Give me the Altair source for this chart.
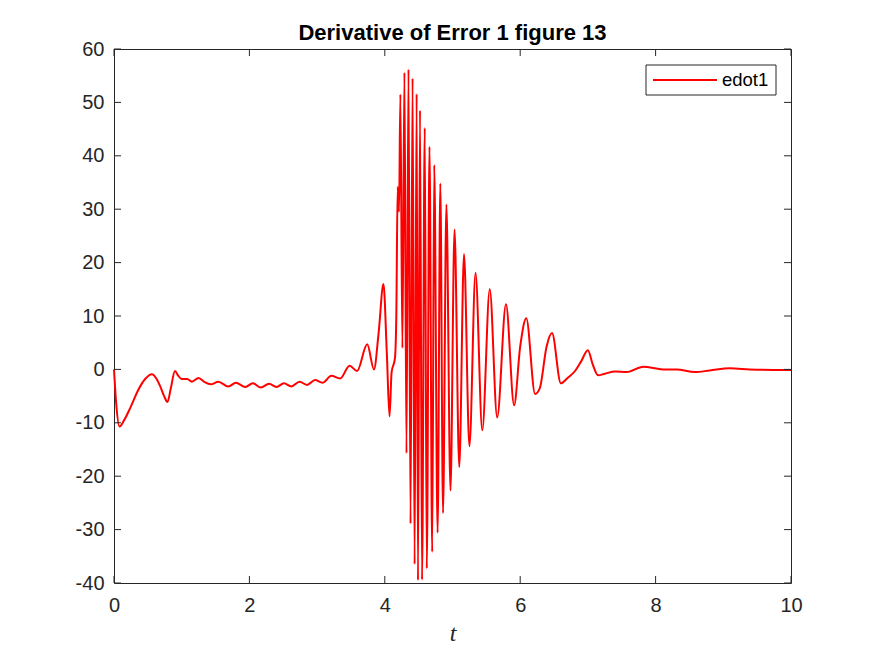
import altair as alt
import pandas as pd

# values (t, edot1)
t = [0.0, 0.03, 0.08, 0.15, 0.24, 0.36, 0.46, 0.56, 0.63, 0.68, 0.74, 0.79, 0.84, 0.90,
     0.95, 1.0, 1.08, 1.15, 1.25, 1.34, 1.43, 1.54, 1.69, 1.80, 1.94, 2.05, 2.17, 2.29,
     2.40, 2.51, 2.62, 2.74, 2.85, 2.97, 3.08, 3.21, 3.34, 3.48, 3.59, 3.74, 3.84, 3.91,
     3.98, 4.03, 4.07, 4.10, 4.15, 4.17, 4.19, 4.21, 4.23, 4.26, 4.29, 4.32, 4.35, 4.38,
     4.41, 4.44, 4.47, 4.49, 4.52, 4.55, 4.59, 4.62, 4.66, 4.70, 4.73, 4.78, 4.82, 4.86,
     4.91, 4.97, 5.03, 5.10, 5.17, 5.25, 5.34, 5.44, 5.55, 5.66, 5.79, 5.91, 6.0, 6.09,
     6.22, 6.29, 6.39, 6.47, 6.60, 6.70, 6.81, 6.90, 7.0, 7.07, 7.15, 7.25, 7.40, 7.57,
     7.82, 8.11, 8.31, 8.58, 8.80, 9.10, 9.39, 9.74, 10.0]
edot1 = [0.0, -6.0, -10.7, -9.5, -7.2, -3.8, -1.8, -0.9, -1.8, -3.1, -5.0, -6.1, -3.5, -0.3,
         -1.2, -1.8, -1.8, -2.3, -1.6, -2.4, -2.8, -2.3, -3.2, -2.5, -3.3, -2.6, -3.4, -2.7,
         -3.3, -2.6, -3.2, -2.3, -2.9, -2.0, -2.5, -1.2, -1.7, 0.7, -0.3, 4.7, 0.0, 7.0,
         16.0, 3.0, -8.8, -0.6, 2.1, 10.0, 34.2, 29.5, 51.5, 4.0, 55.6, -15.7, 56.2, -28.9,
         54.5, -36.5, 51.6, -39.5, 48.5, -39.4, 45.2, -37.3, 41.7, -34.2, 38.3, -30.6, 34.8, -26.9,
         30.9, -22.7, 26.2, -18.3, 21.6, -14.4, 18.1, -11.4, 15.0, -9.0, 12.2, -6.7, 4.3, 9.6,
         -4.6, -3.5, 4.3, 6.8, -2.6, -1.6, -0.3, 1.5, 3.6, 1.0, -1.1, -0.8, -0.4, -0.5,
         0.5, 0.0, 0.0, -0.5, -0.2, 0.2, 0.0, -0.1, -0.1]

x_ticks = [0, 2, 4, 6, 8, 10]
y_ticks = [-40, -30, -20, -10, 0, 10, 20, 30, 40, 50, 60]
series = ['edot1']

W, H = 677, 534
TICK = 7
AXIS_COLOR = '#262626'
RED = '#ff0000'

data = pd.DataFrame({'t': t, 'edot': edot1})
xt = pd.DataFrame({'v': x_ticks})
yt = pd.DataFrame({'v': y_ticks})
leg = pd.DataFrame({'name': series})

x_scale = alt.Scale(domain=[0, 10], nice=False, zero=False)
y_scale = alt.Scale(domain=[-40, 60], nice=False, zero=False)

line = alt.Chart(data).mark_line(strokeWidth=2, interpolate='monotone', color=RED).encode(
    x=alt.X('t:Q', scale=x_scale,
            axis=alt.Axis(values=x_ticks, title='t', titleFont='Liberation Serif',
                          titleFontStyle='italic', titleFontWeight='normal', titleFontSize=24,
                          titleColor=AXIS_COLOR, titleBaseline='alphabetic', titleY=57,
                          labelPadding=12, labelFlush=False, labelExpr="datum.value + ''")),
    y=alt.Y('edot:Q', scale=y_scale,
            axis=alt.Axis(values=y_ticks, title=None, labelPadding=10, labelFlush=False,
                          labelExpr="datum.value + ''"))
)

# inward ticks on all four sides, like the original
left_ticks = alt.Chart(yt).mark_rule(color=AXIS_COLOR).encode(
    y=alt.Y('v:Q', scale=y_scale), x=alt.value(0), x2=alt.value(TICK))
right_ticks = alt.Chart(yt).mark_rule(color=AXIS_COLOR).encode(
    y=alt.Y('v:Q', scale=y_scale), x=alt.value(W - TICK), x2=alt.value(W))
bottom_ticks = alt.Chart(xt).mark_rule(color=AXIS_COLOR).encode(
    x=alt.X('v:Q', scale=x_scale), y=alt.value(H - TICK), y2=alt.value(H))
top_ticks = alt.Chart(xt).mark_rule(color=AXIS_COLOR).encode(
    x=alt.X('v:Q', scale=x_scale), y=alt.value(0), y2=alt.value(TICK))

# legend box in the top right corner
leg_box = alt.Chart(leg).mark_rect(fill='white', stroke=AXIS_COLOR, strokeWidth=1).encode(
    x=alt.value(532), x2=alt.value(662), y=alt.value(16), y2=alt.value(46))
leg_line = alt.Chart(leg).mark_rule(color=RED, strokeWidth=2).encode(
    x=alt.value(539), x2=alt.value(603), y=alt.value(31))
leg_text = alt.Chart(leg).mark_text(align='left', baseline='middle', fontSize=18.5,
                                    font='Liberation Sans', color='#000000').encode(
    x=alt.value(608), y=alt.value(31), text='name:N')

chart = alt.layer(line, left_ticks, right_ticks, bottom_ticks, top_ticks,
                  leg_box, leg_line, leg_text).properties(
    width=W,
    height=H,
    title=alt.Title('Derivative of Error 1 figure 13', fontSize=22, fontWeight='bold',
                    font='Liberation Sans', color='#000000', offset=9, dy=15),
    autosize=alt.AutoSizeParams(type='none'),
    padding={'left': 106, 'top': 41, 'right': 76, 'bottom': 65}
).configure_view(
    stroke=AXIS_COLOR, strokeWidth=1
).configure_axis(
    grid=False, domain=False, ticks=False,
    labelFont='Liberation Sans', labelFontSize=20, labelColor=AXIS_COLOR
)

chart.save('out.html', embed_options={'renderer': 'svg', 'actions': False})
